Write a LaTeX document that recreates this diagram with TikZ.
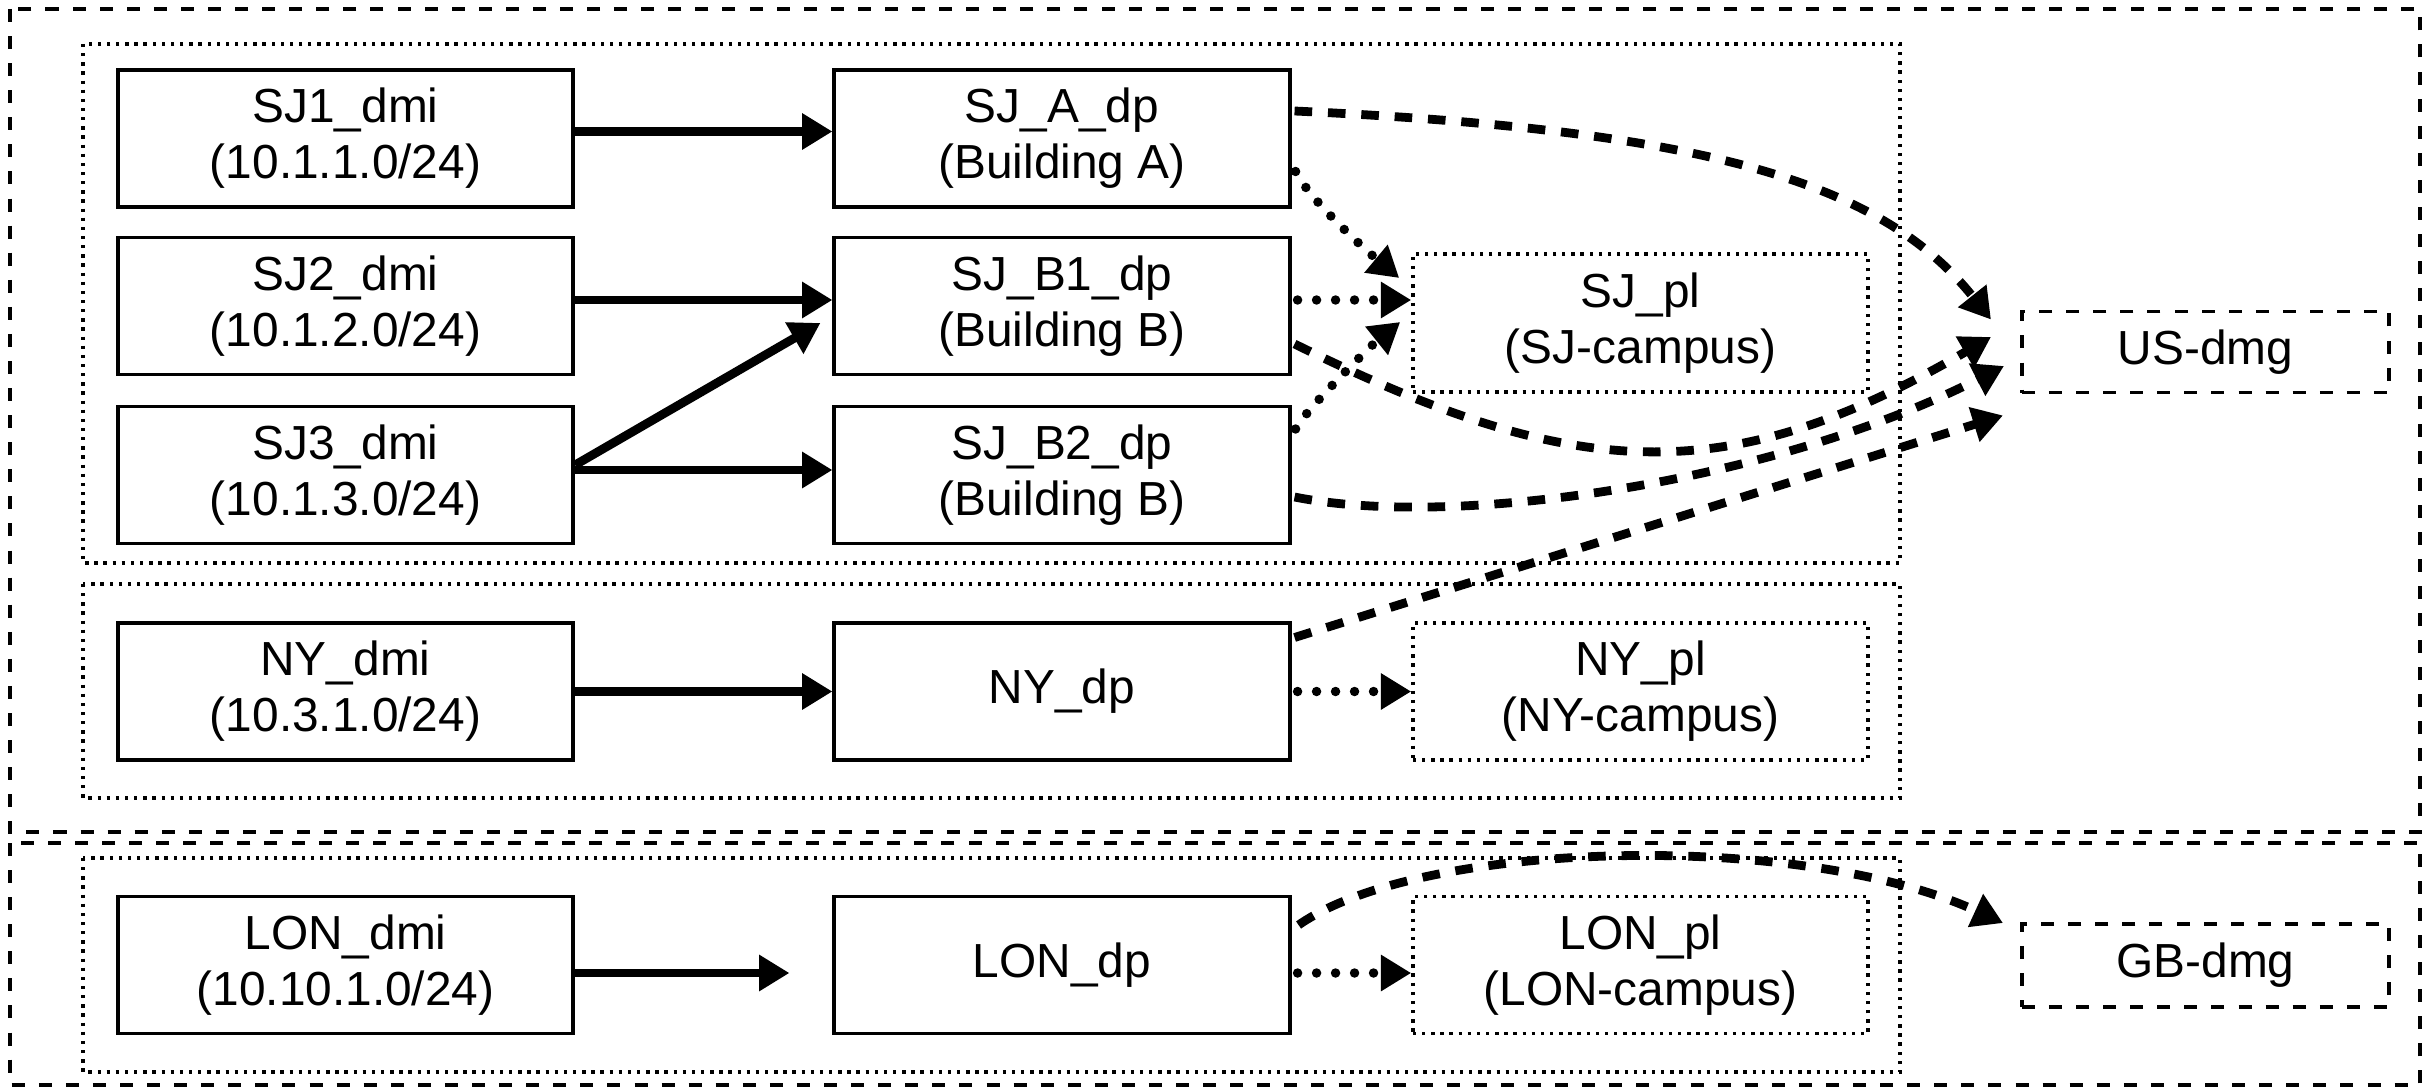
\documentclass[tikz,border=0pt]{standalone}
\usepackage{fontspec}
\setmainfont{Liberation Sans}
\usetikzlibrary{arrows.meta,calc}
\newcommand{\dgfont}{\fontsize{13.6}{15.9}\selectfont}
\begin{document}
\begin{tikzpicture}[x=0.01cm,y=-0.01cm,
  box/.style={draw,line width=1.1pt,minimum width=4.55cm,minimum height=1.37cm,inner sep=0pt,align=center,font=\dgfont},
  plbox/.style={box,line width=0.95pt,dash pattern=on 0.95pt off 1.65pt},
  dmgbox/.style={box,line width=1.1pt,dash pattern=on 3.7pt off 4pt,minimum width=3.67cm,minimum height=0.81cm},
  grp/.style={line width=0.95pt,dash pattern=on 0.95pt off 1.65pt},
  region/.style={line width=1.1pt,dash pattern=on 3.7pt off 4pt},
  tipped/.style={-{Triangle[length=8.6pt,width=9.8pt]}},
  sedge/.style={tipped,line width=2.5pt},
  dedge/.style={tipped,line width=2.5pt,dash pattern=on 5pt off 4.5pt},
  oedge/.style={tipped,line width=2.7pt,line cap=round,dash pattern=on 0pt off 5.4pt}
]
\useasboundingbox (0,0) rectangle (2433,1088);

% regions and groups
\draw[region] (10,9) rectangle (2420,832);
\draw[region] (10,843) rectangle (2420,1085);
\draw[grp] (83,44) rectangle (1900,563);
\draw[grp] (83,584) rectangle (1900,798);
\draw[grp] (83,858) rectangle (1900,1072);

% nodes
\node[box] (sj1) at (345.5,138.5) {SJ1\_dmi\\(10.1.1.0/24)};
\node[box] (sj2) at (345.5,306) {SJ2\_dmi\\(10.1.2.0/24)};
\node[box] (sj3) at (345.5,475) {SJ3\_dmi\\(10.1.3.0/24)};
\node[box] (spa) at (1062,138.5) {SJ\_A\_dp\\(Building A)};
\node[box] (sb1) at (1062,306) {SJ\_B1\_dp\\(Building B)};
\node[box] (sb2) at (1062,475) {SJ\_B2\_dp\\(Building B)};
\node[plbox,minimum height=1.38cm] (sjpl) at (1640.5,323) {SJ\_pl\\(SJ-campus)};
\node[dmgbox] (us) at (2205.5,352) {US-dmg};
\node[box] (nyd) at (345.5,691.5) {NY\_dmi\\(10.3.1.0/24)};
\node[box] (nyp) at (1062,691.5) {NY\_dp};
\node[plbox] (nypl) at (1640.5,691.5) {NY\_pl\\(NY-campus)};
\node[box] (lond) at (345.5,965) {LON\_dmi\\(10.10.1.0/24)};
\node[box] (lonp) at (1062,965) {LON\_dp};
\node[plbox] (lonpl) at (1640.5,965) {LON\_pl\\(LON-campus)};
\node[dmgbox,minimum height=0.83cm] (gb) at (2205.5,965.5) {GB-dmg};

% solid edges
\draw[sedge] ($(sj1.east)+(0,-7)$) -- ($(spa.west)+(0,-7)$);
\draw[sedge] ($(sj2.east)+(0,-6)$) -- ($(sb1.west)+(0,-6)$);
\draw[sedge] ($(sj3.east)+(0,-5)$) -- ($(sb2.west)+(0,-5)$);
\draw[sedge] ($(sj3.east)+(0,-10)$) -- ($(sb1.west)+(-12,17)$);
\draw[sedge] (nyd.east) -- (nyp.west);
\coordinate (lonend) at ($(lonp.west)+(-43,8)$);
\draw[sedge] ($(lond.east)+(0,8)$) -- (lonend);

% dotted edges
\draw[oedge] ($(spa.east)+(4,33)$) .. controls +(15,30) and +(-30,-25) .. ($(sjpl.west)+(-12,-45)$);
\draw[oedge] ($(sb1.east)+(6,-6)$) -- ($(sjpl.west)+(0,-23)$);
\draw[oedge] ($(sb2.east)+(4,-46)$) .. controls +(12,-22) and +(-25,20) .. ($(sjpl.west)+(-11,-1)$);
\draw[oedge] ($(nyp.east)+(6,0)$) -- (nypl.west);
\draw[oedge] ($(lonp.east)+(6,8)$) -- ($(lonpl.west)+(0,8)$);

% dashed edges
\draw[dedge] ($(spa.east)+(3,-27.5)$) .. controls (1700,130) and (1880,180) .. ($(us.north west)+(-29,10)$);
\draw[dedge] ($(sb1.east)+(3,38)$) .. controls (1573,481) and (1725,492) .. ($(us.west)+(-29,-15)$);
\draw[dedge] ($(sb2.east)+(3,22)$) .. controls (1460,530) and (1780,480) .. ($(us.west)+(-16,14)$);
\draw[dedge] ($(nyp.east)+(3,-54)$) -- ($(us.south west)+(-17,21)$);
\draw[dedge] ($(lonp.east)+(7,-40)$) .. controls (1420,840) and (1800,830) .. ($(gb.north west)+(-17,1)$);
\end{tikzpicture}
\end{document}
